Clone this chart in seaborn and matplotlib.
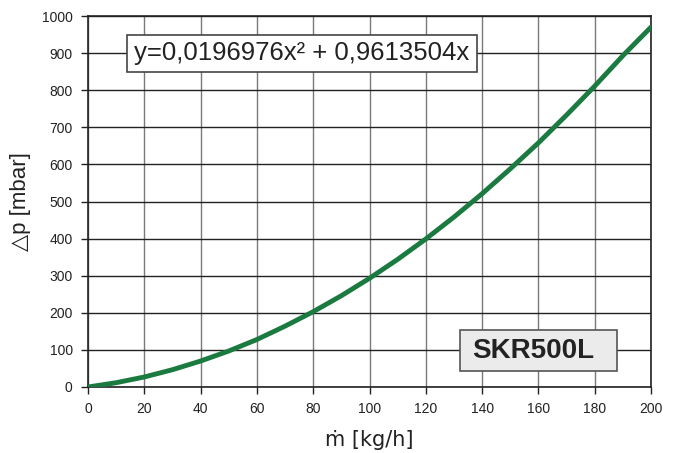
import matplotlib
matplotlib.use("Agg")
import matplotlib.pyplot as plt
from matplotlib.patches import Rectangle
import seaborn as sns
import pandas as pd

flow = [0, 10, 20, 30, 40, 50, 60, 70, 80, 90, 100, 110, 120, 130, 140, 150, 160, 170, 180, 190, 200]
dp = [0, 11.6, 27, 46.6, 70, 97, 128, 164, 203, 246, 293, 344, 399, 458, 521, 588, 658, 733, 811, 893, 970]
x_ticks = [0, 20, 40, 60, 80, 100, 120, 140, 160, 180, 200]
y_ticks = [0, 100, 200, 300, 400, 500, 600, 700, 800, 900, 1000]
equation = "y=0,0196976x² + 0,9613504x"
model = "SKR500L"

sns.set_theme(style="white")
plt.rcParams['font.family'] = ['Liberation Sans', 'DejaVu Sans']

df = pd.DataFrame({"flow": flow, "dp": dp})
fig = plt.figure(figsize=(6.75, 4.53), dpi=100)
ax = fig.add_axes([88/675, 66/453, (651-88)/675, (387-16)/453])

for xv in x_ticks:
    ax.axvline(xv, color="#7a7a7a", lw=1.0, zorder=1)
for yv in y_ticks:
    ax.axhline(yv, color="#222222", lw=1.0, zorder=1)

sns.lineplot(data=df, x="flow", y="dp", ax=ax, color="#1a7a40", lw=3.5,
             solid_capstyle="round", zorder=3)

ax.set_xlim(0, 200)
ax.set_ylim(0, 1000)
ax.set_xticks(x_ticks)
ax.set_yticks(y_ticks)
ax.tick_params(axis="both", which="both", direction="out", length=5, width=1,
               color="#222222", labelsize=10, labelcolor="#222222", pad=6,
               bottom=True, left=True)
for s in ax.spines.values():
    s.set_color("#222222")
    s.set_linewidth(1.2)

ax.set_xlabel("ṁ [kg/h]", fontsize=15, color="#222222", labelpad=10,
              family=['DejaVu Sans'])
ax.set_ylabel("△p [mbar]", fontsize=16, color="#222222", labelpad=8,
              family=['Liberation Sans', 'DejaVu Sans'])

ax.add_patch(Rectangle((0.0693, 0.849), 0.6217, 0.0997, transform=ax.transAxes,
                       fc="white", ec="#444444", lw=1.2, zorder=5))
ax.text(0.380, 0.899, equation, transform=ax.transAxes, fontsize=18.5,
        color="#222222", va="center", ha="center", zorder=6)

ax.add_patch(Rectangle((0.661, 0.043), 0.279, 0.1105, transform=ax.transAxes,
                       fc="#ebebeb", ec="#555555", lw=1.2, zorder=5))
ax.text(0.791, 0.098, model, transform=ax.transAxes, fontsize=20,
        fontweight="bold", color="#222222", va="center", ha="center", zorder=6)

fig.savefig("out.png", dpi=100, facecolor="white")
